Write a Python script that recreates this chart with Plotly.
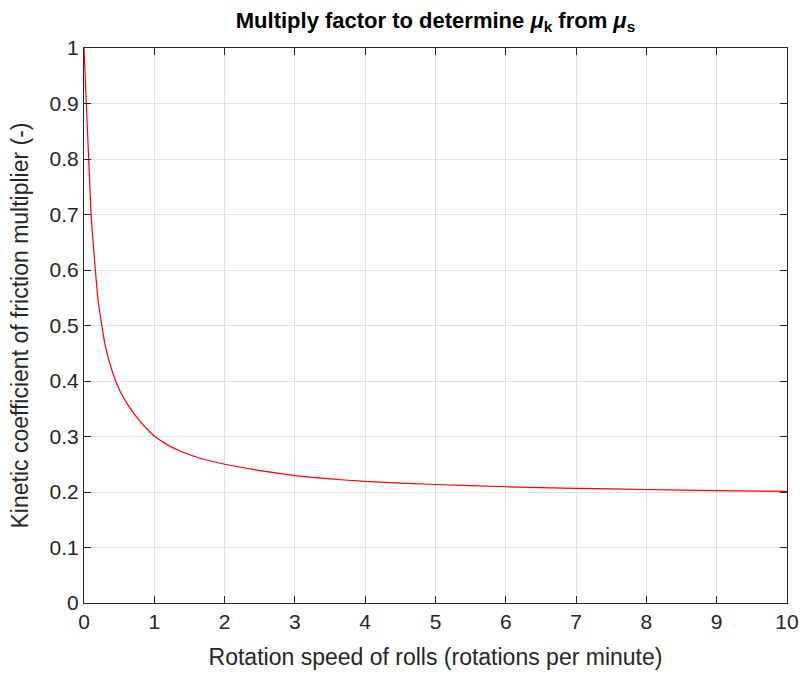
import plotly.graph_objects as go

# Values
speed_rpm = [0, 0.1, 0.2, 0.3, 0.4, 0.5, 0.6, 0.7, 0.8, 0.9, 1.0,
             1.2, 1.4, 1.7, 2.0, 2.5, 3, 3.5, 4, 5, 6, 7, 8, 9, 10]
multiplier = [1.0, 0.70, 0.546, 0.465, 0.418, 0.385, 0.362, 0.343, 0.327, 0.313, 0.301,
              0.284, 0.272, 0.259, 0.250, 0.2385, 0.2295, 0.2235, 0.219, 0.2135, 0.2095,
              0.2065, 0.2045, 0.2025, 0.2010]

x_ticks = list(range(0, 11))
y_ticks = [i / 10 for i in range(0, 11)]
y_tick_labels = ["0"] + ["0." + str(i) for i in range(1, 10)] + ["1"]

FONT = "Liberation Sans, Arial, Helvetica"

fig = go.Figure()
fig.add_trace(go.Scatter(
    x=speed_rpm, y=multiplier, mode="lines",
    line=dict(color="#ff0000", width=1.2, shape="spline", smoothing=0.4),
    showlegend=False,
))

axis_common = dict(
    showline=True, linecolor="#262626", linewidth=1, mirror="ticks",
    ticks="inside", ticklen=7, tickcolor="#262626",
    showgrid=True, gridcolor="#e2e2e2", gridwidth=1, zeroline=False,
    tickfont=dict(family=FONT, size=21, color="#262626"),
    automargin=False,
)

fig.update_layout(
    width=802, height=673,
    margin=dict(l=84, r=15, t=48, b=70),
    paper_bgcolor="white", plot_bgcolor="white",
    title=dict(
        text="<b>Multiply factor to determine <i>μ</i><sub>k</sub> from <i>μ</i><sub>s</sub></b>",
        x=0.543, xanchor="center", y=1 - 20 / 673, yanchor="middle",
        font=dict(family=FONT, size=22, color="black"),
    ),
    xaxis=dict(
        range=[0, 10], tickvals=x_ticks,
        title=dict(text="Rotation speed of rolls (rotations per minute)",
                   font=dict(family=FONT, size=23, color="#262626"),
                   standoff=16),
        **axis_common,
    ),
    yaxis=dict(
        range=[0, 1], tickvals=y_ticks, ticktext=y_tick_labels,
        title=dict(text="Kinetic coefficient of friction multiplier (-)",
                   font=dict(family=FONT, size=23, color="#262626"),
                   standoff=14),
        **axis_common,
    ),
)

fig.write_html("out.html")
